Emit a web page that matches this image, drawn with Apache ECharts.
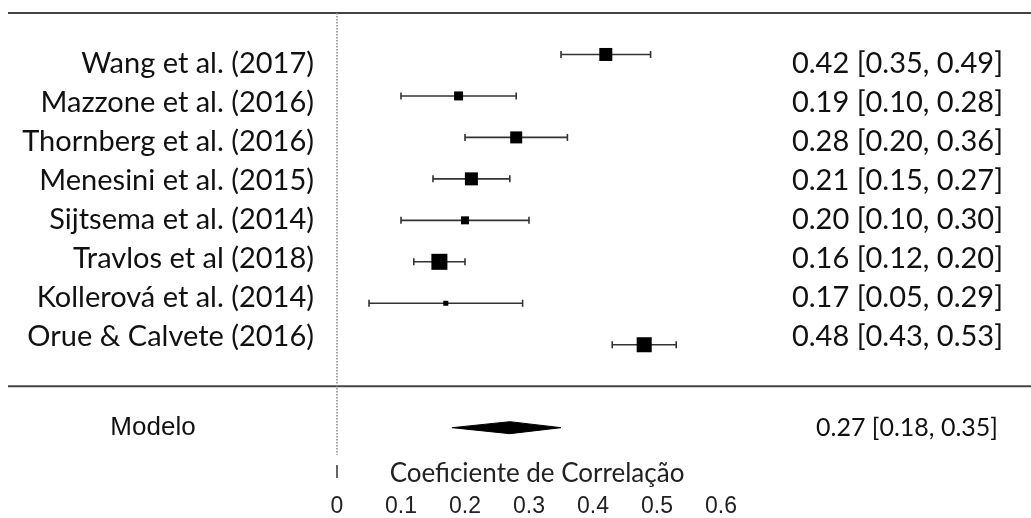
<!DOCTYPE html>
<html><head><meta charset="utf-8">
<script src="https://cdn.jsdelivr.net/npm/echarts@6/dist/echarts.min.js"></script>
<style>html,body{margin:0;padding:0;background:#fff}#c{width:1031px;height:518px}</style>
</head><body><div id="c"></div>
<script>
// ---- data ----
const studies = ['Wang et al. (2017)', 'Mazzone et al. (2016)', 'Thornberg et al. (2016)', 'Menesini et al. (2015)', 'Sijtsema et al. (2014)', 'Travlos et al (2018)', 'Kollerová et al. (2014)', 'Orue & Calvete (2016)'];
const estimates = [0.42, 0.19, 0.28, 0.21, 0.20, 0.16, 0.17, 0.48];
const lower = [0.35, 0.10, 0.20, 0.15, 0.10, 0.12, 0.05, 0.43];
const upper = [0.49, 0.28, 0.36, 0.27, 0.30, 0.20, 0.29, 0.53];
const weights = [14.9, 7.1, 12.7, 14.9, 5.6, 22.6, 2.2, 19.9];
const modelLabel = 'Modelo';
const modelEstimate = 0.27;
const modelLower = 0.18;
const modelUpper = 0.35;
const xTicks = [0, 0.1, 0.2, 0.3, 0.4, 0.5, 0.6];
const xTitle = 'Coeficiente de Correlação';

// ---- layout helpers ----
const rows = studies.map((s, i) => i + 1);
const modelRow = studies.length + 2;
const sepRow = studies.length + 1;
const fmt = (e, l, u) => e.toFixed(2) + ' [' + l.toFixed(2) + ', ' + u.toFixed(2) + ']';

const chart = echarts.init(document.getElementById('c'), null, {renderer: 'canvas'});
const hidden = {axisLine: {show: false}, axisTick: {show: false}, splitLine: {show: false}};
const markerRange = {min: 0, max: 10.9};
const textRange = {min: -0.3077, max: 11.282};
const txt = '#111';

const option = {
  animation: false,
  backgroundColor: '#fff',
  grid: {left: 337, right: 310, top: 13, bottom: 53, containLabel: false, outerBoundsMode: 'none'},
  xAxis: {
    type: 'value', min: 0, max: 0.6, interval: 0.1, position: 'bottom',
    axisLine: {show: false, onZero: false}, splitLine: {show: false},
    axisTick: {show: true, customValues: [0], length: 13, lineStyle: {color: '#333', width: 1.5}},
    axisLabel: {customValues: xTicks, margin: 30, fontFamily: 'Liberation Sans', fontSize: 23, color: '#222'},
    name: xTitle, nameLocation: 'middle', nameGap: -4, nameMoveOverlap: false,
    nameTextStyle: {fontFamily: 'Lato', fontSize: 26, color: '#222', padding: [0, 0, 0, 16]}
  },
  yAxis: [
    Object.assign({type: 'value', position: 'left', inverse: true}, markerRange, hidden, {
      axisLabel: {customValues: [modelRow], formatter: () => modelLabel, align: 'center', margin: 184,
        fontFamily: 'Liberation Sans', fontSize: 26, color: txt}
    }),
    Object.assign({type: 'value', position: 'left', inverse: true}, textRange, hidden, {
      axisLabel: {customValues: rows, formatter: v => studies[Math.round(v) - 1], margin: 23,
        fontFamily: 'Lato', fontSize: 29, color: txt}
    }),
    Object.assign({type: 'value', position: 'right', inverse: true}, textRange, hidden, {
      axisLabel: {customValues: rows, formatter: v => { const i = Math.round(v) - 1; return fmt(estimates[i], lower[i], upper[i]); },
        align: 'right', margin: 282, fontFamily: 'Lato', fontSize: 29, color: txt}
    }),
    Object.assign({type: 'value', position: 'right', inverse: true}, markerRange, hidden, {
      axisLabel: {customValues: [modelRow], formatter: () => fmt(modelEstimate, modelLower, modelUpper),
        align: 'right', margin: 277, fontFamily: 'Lato', fontSize: 25, color: txt}
    })
  ],
  series: [
    {
      type: 'custom', yAxisIndex: 0, silent: true,
      data: studies.map((s, i) => [lower[i], upper[i], rows[i]]),
      renderItem: (params, api) => {
        const a = api.coord([api.value(0), api.value(2)]);
        const b = api.coord([api.value(1), api.value(2)]);
        const st = {stroke: '#333', lineWidth: 1.6};
        const c = 3.5;
        return {type: 'group', children: [
          {type: 'line', shape: {x1: a[0], y1: a[1], x2: b[0], y2: b[1]}, style: st},
          {type: 'line', shape: {x1: a[0], y1: a[1] - c, x2: a[0], y2: a[1] + c}, style: st},
          {type: 'line', shape: {x1: b[0], y1: b[1] - c, x2: b[0], y2: b[1] + c}, style: st}
        ]};
      }
    },
    {
      type: 'scatter', yAxisIndex: 0, silent: true, symbol: 'rect',
      data: estimates.map((e, i) => [e, rows[i]]),
      symbolSize: (v, p) => 3.37 * Math.sqrt(weights[p.dataIndex]),
      itemStyle: {color: '#000', opacity: 1},
      markLine: {
        silent: true, symbol: 'none', label: {show: false},
        lineStyle: {type: 'dotted', color: '#888', width: 1.5},
        data: [[{coord: [0, 0]}, {coord: [0, 10.65]}]]
      }
    },
    {
      type: 'custom', yAxisIndex: 0, silent: true,
      data: [[modelLower, modelEstimate, modelUpper, modelRow]],
      renderItem: (params, api) => {
        const r = api.value(3);
        const l = api.coord([api.value(0), r]);
        const m = api.coord([api.value(1), r]);
        const u = api.coord([api.value(2), r]);
        const h = 6;
        return {type: 'polygon', shape: {points: [[l[0], l[1]], [m[0], m[1] - h], [u[0], u[1]], [m[0], m[1] + h]]},
          style: {fill: '#000', stroke: '#000', lineWidth: 1}};
      }
    }
  ]
};
chart.setOption(option);

// horizontal rules at the top and at the separator row
const yTop = chart.convertToPixel({yAxisIndex: 0}, 0);
const ySep = chart.convertToPixel({yAxisIndex: 0}, sepRow);
chart.setOption({graphic: [
  {type: 'line', silent: true, shape: {x1: 8, y1: yTop, x2: 1031, y2: yTop}, style: {stroke: '#444', lineWidth: 2}},
  {type: 'line', silent: true, shape: {x1: 8, y1: ySep, x2: 1031, y2: ySep}, style: {stroke: '#444', lineWidth: 2}}
]});
</script></body></html>
